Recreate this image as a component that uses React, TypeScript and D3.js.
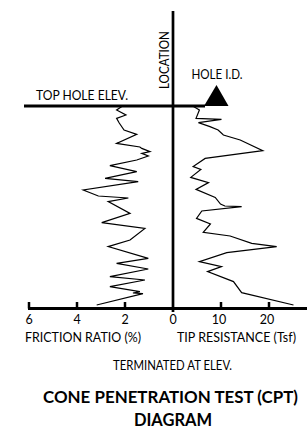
import React from 'react';
import * as d3 from 'd3';

// depth readings (0 = top of hole, 100 = termination)
const frictionDepth = [0, 2, 4.5, 6.2, 8.5, 12, 14.2, 18.7, 20.5, 21.2, 22.8, 23.7, 25, 27, 29.8, 32.8, 36.2, 37.8, 42, 45, 46, 47.8, 53.7, 58.3, 61.2, 67, 70.3, 76.2, 78.7, 81.5, 85.3, 87, 90.3, 92.8, 93.5, 93.8, 99.5];
const frictionRatio = [2.1, 2.35, 1.96, 2.35, 2.24, 2.04, 1.51, 2.35, 1.38, 1.3, 0.96, 1.3, 1.03, 1.51, 2.63, 1.51, 2.83, 1.45, 3.74, 3.11, 1.86, 2.7, 1.79, 2.97, 1.17, 1.79, 2.7, 1.03, 2.35, 1.03, 2.63, 1.17, 2.63, 1.38, 1.67, 1.25, 3.18];

const tipDepth = [0, 2, 6.2, 6.7, 8.3, 10.3, 12, 14.5, 17, 22.3, 26.2, 30.3, 31.7, 35.7, 38.3, 41.7, 45.7, 49, 50, 50.3, 52.5, 56.2, 59, 63.2, 65, 68.7, 70.3, 73.3, 77.8, 80.3, 82.8, 87.8, 93.3, 99.5];
const tipResistance = [4.1, 5.5, 4.8, 10.1, 5.3, 7.7, 9.4, 10.5, 14, 18.7, 6.7, 4.2, 5.8, 3.7, 7.4, 4.8, 8.8, 9.9, 10.8, 14.3, 6, 4.9, 7.8, 6.3, 11.9, 16.4, 21.6, 11.2, 5.5, 10.1, 7.2, 12.6, 14.3, 25.1];

const frictionTicks = [6, 4, 2];
const tipTicks = [10, 20];

const font = 'Lato, "Open Sans", sans-serif';

export default function App() {
  const x0 = 173;
  const yTop = 106;
  const yAxis = 308.5;

  const y = d3.scaleLinear().domain([0, 100]).range([yTop, 306]);
  const xF = d3.scaleLinear().domain([0, 6]).range([x0, 29]);
  const xT = d3.scaleLinear().domain([0, 30]).range([x0, 317]);

  const fLine = d3
    .line<number>()
    .x((d) => xF(d))
    .y((_, i) => y(frictionDepth[i]));
  const tLine = d3
    .line<number>()
    .x((d) => xT(d))
    .y((_, i) => y(tipDepth[i]));

  return (
    <svg
      width={307}
      height={430}
      style={{ position: 'absolute', left: 0, top: 0, background: '#fff' }}
      fontFamily={font}
    >
      {/* data traces */}
      <path d={fLine(frictionRatio) || ''} fill="none" stroke="#000" strokeWidth={1.2} />
      <path d={tLine(tipResistance) || ''} fill="none" stroke="#000" strokeWidth={1.2} />

      {/* frame lines */}
      <line x1={24} x2={205} y1={yTop} y2={yTop} stroke="#000" strokeWidth={3} />
      <line x1={x0} x2={x0} y1={11} y2={312} stroke="#000" strokeWidth={2.7} />
      <line x1={28} x2={307} y1={yAxis} y2={yAxis} stroke="#000" strokeWidth={3} />

      {/* hole marker */}
      <polygon points={`204,106 228.5,106 216.5,85`} fill="#000" />

      {/* ticks */}
      {frictionTicks.map((t) => (
        <g key={'f' + t}>
          <line x1={xF(t)} x2={xF(t)} y1={302} y2={yAxis} stroke="#000" strokeWidth={2.5} />
          <text x={xF(t)} y={324} fontSize={12.5} textAnchor="middle">{t}</text>
        </g>
      ))}
      {tipTicks.map((t) => (
        <g key={'t' + t}>
          <line x1={xT(t)} x2={xT(t)} y1={302} y2={yAxis} stroke="#000" strokeWidth={2.5} />
          <text x={xT(t) - 2} y={324} fontSize={12.5} textAnchor="middle">{t}</text>
        </g>
      ))}
      <text x={x0} y={324} fontSize={12.5} textAnchor="middle">0</text>

      {/* labels */}
      <text x={36} y={100} fontSize={12.5} textLength={92} lengthAdjust="spacingAndGlyphs">TOP HOLE ELEV.</text>
      <text x={191.5} y={79} fontSize={12.5} textLength={51} lengthAdjust="spacingAndGlyphs">HOLE I.D.</text>
      <text
        transform="translate(168.5,89) rotate(-90)"
        fontSize={12.5}
        textLength={58}
        lengthAdjust="spacingAndGlyphs"
      >
        LOCATION
      </text>
      <text x={25} y={341.5} fontSize={12.5} textLength={116} lengthAdjust="spacingAndGlyphs">FRICTION RATIO (%)</text>
      <text x={177} y={341.5} fontSize={12.5} textLength={119} lengthAdjust="spacingAndGlyphs">TIP RESISTANCE (Tsf)</text>
      <text x={113} y={370} fontSize={12.5} textLength={119} lengthAdjust="spacingAndGlyphs">TERMINATED AT ELEV.</text>

      <text x={43} y={402.5} fontSize={17} fontWeight="bold" textLength={255} lengthAdjust="spacingAndGlyphs">
        CONE PENETRATION TEST (CPT)
      </text>
      <text x={173} y={426} fontSize={16.5} fontWeight="bold" textAnchor="middle">DIAGRAM</text>
    </svg>
  );
}
